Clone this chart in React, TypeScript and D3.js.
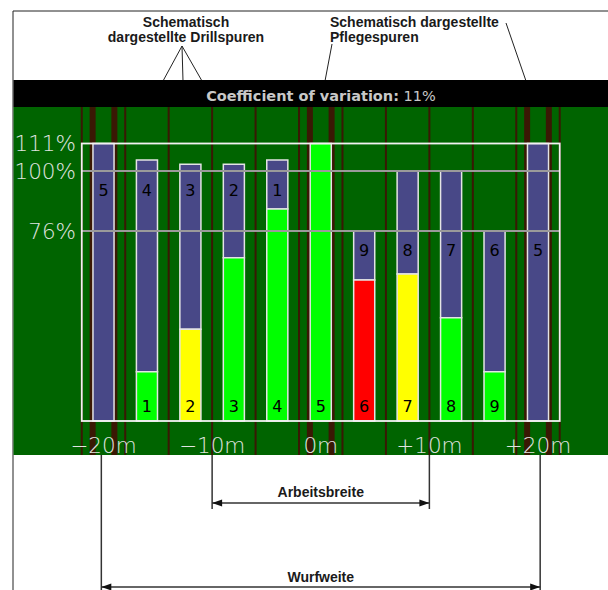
import React from "react";
import * as d3 from "d3";

// ---- data ----
const barPositions = [-20, -16, -12, -8, -4, 0, 4, 8, 12, 16, 20]; // metres
const totalValues = [111, 104.4, 102.7, 102.7, 104.4, 111, 76, 100, 100, 76, 111]; // %
const ownValues = [0, 19.7, 36.7, 65.3, 84.8, 111, 56.4, 58.8, 41.3, 19.7, 0]; // %
const ownColors = ["", "#00ff00", "#ffff00", "#00ff00", "#00ff00", "#00ff00", "#ff0000", "#ffff00", "#00ff00", "#00ff00", ""];
const ownLabels = ["", "1", "2", "3", "4", "5", "6", "7", "8", "9", ""];
const overlapLabels = ["5", "4", "3", "2", "1", "", "9", "8", "7", "6", "5"];
const overlapLabelLevel = [90, 90, 90, 90, 90, 0, 66, 66, 66, 66, 66]; // %
const yTicks = [111, 100, 76];
const xTicks = [-20, -10, 0, 10, 20];
const xTickLabels = ["\u221220m", "\u221210m", "0m", "+10m", "+20m"];
const drillTracks = [-22, -18, -14, -10, -6, -2, 2, 6, 10, 14, 18, 22];
const tramTracks = [-21, -19, -1, 1, 19, 21];
const arbeitsbreite = [-10, 10];
const wurfweite = [-20.2, 20.2];
const cvLabel = "Coefficient of variation:";
const cvValue = "11%";

const W = 608;
const H = 590;

const x = d3.scaleLinear().domain([-20, 20]).range([103.5, 538]);
const y = d3.scaleLinear().domain([0, 111]).range([421, 143.5]);
const BAR_HALF = 0.97;

const PURPLE = "#484887";
const BROWN = "#3a1804";
const annFont = "'Liberation Sans', Arial, sans-serif";
const djv = "'DejaVu Sans', sans-serif";

function Arrow({ tipX, yy, dir }: { tipX: number; yy: number; dir: number }) {
  const p = d3.path();
  p.moveTo(tipX, yy);
  p.lineTo(tipX + dir * 10, yy - 3.5);
  p.lineTo(tipX + dir * 10, yy + 3.5);
  p.closePath();
  return <path d={p.toString()} fill="#111" />;
}

export default function App() {
  const frameL = x(-22);
  const frameR = x(22);
  return (
    <svg width={W} height={H} style={{ position: "absolute", left: 0, top: 0, background: "#fff" }}>
      {/* outer border */}
      <line x1={13} y1={11} x2={W} y2={11} stroke="#222" strokeWidth={1} />
      <line x1={13} y1={11} x2={13} y2={H} stroke="#222" strokeWidth={1} />

      {/* annotations */}
      <g fontFamily={annFont} fontWeight="bold" fontSize={14} fill="#1a1a1a">
        <text x={186} y={27} textAnchor="middle">Schematisch</text>
        <text x={186} y={42} textAnchor="middle">dargestellte Drillspuren</text>
        <text x={330} y={27}>Schematisch dargestellte</text>
        <text x={330} y={42}>Pflegespuren</text>
      </g>
      <g stroke="#222" strokeWidth={1} fill="none">
        <line x1={182} y1={46} x2={163} y2={81} />
        <line x1={182} y1={46} x2={183} y2={81} />
        <line x1={182} y1={46} x2={202} y2={81} />
        <line x1={332} y1={44} x2={325} y2={81} />
        <line x1={506} y1={23} x2={526} y2={81} />
      </g>

      {/* black band */}
      <rect x={13.5} y={80} width={W - 13.5} height={27} fill="#000" />
      <text x={321} y={101} textAnchor="middle" fontFamily={djv} fontSize={14.5} fill="#c8c8c8">
        <tspan fontWeight="bold">{cvLabel}</tspan>
        <tspan> {cvValue}</tspan>
      </text>

      {/* field */}
      <rect x={13.5} y={107} width={W - 13.5} height={348} fill="#006400" />
      {drillTracks.map((m, i) => (
        <line key={"d" + i} x1={x(m)} x2={x(m)} y1={107} y2={455} stroke={BROWN} strokeWidth={2} />
      ))}
      {tramTracks.map((m, i) => (
        <line key={"t" + i} x1={x(m)} x2={x(m)} y1={107} y2={455} stroke={BROWN} strokeWidth={6} />
      ))}

      {/* bars */}
      {barPositions.map((m, i) => {
        const x0 = x(m - BAR_HALF);
        const w = x(m + BAR_HALF) - x0;
        return (
          <g key={"b" + i}>
            {totalValues[i] > ownValues[i] && (
              <rect x={x0} y={y(totalValues[i])} width={w} height={y(ownValues[i]) - y(totalValues[i])}
                fill={PURPLE} stroke="#e4e4e4" strokeWidth={1.5} />
            )}
            {ownValues[i] > 0 && (
              <rect x={x0} y={y(ownValues[i])} width={w} height={y(0) - y(ownValues[i])}
                fill={ownColors[i]} stroke="#e4e4e4" strokeWidth={1.5} />
            )}
          </g>
        );
      })}

      {/* grid (drawn over bars) */}
      {yTicks.filter((t) => t !== 111).map((t) => (
        <line key={"g" + t} x1={frameL} x2={frameR} y1={y(t)} y2={y(t)} stroke="#9a9a9a" strokeWidth={1.8} />
      ))}

      {/* frame */}
      <rect x={frameL} y={y(111)} width={frameR - frameL} height={y(0) - y(111)} fill="none" stroke="#f2f2f2" strokeWidth={1.8} />

      {/* bar labels */}
      <g fontFamily={djv} fontSize={16} fill="#000" textAnchor="middle">
        {barPositions.map((m, i) => (
          <React.Fragment key={"l" + i}>
            {overlapLabels[i] && <text x={x(m)} y={y(overlapLabelLevel[i])}>{overlapLabels[i]}</text>}
            {ownLabels[i] && <text x={x(m)} y={412}>{ownLabels[i]}</text>}
          </React.Fragment>
        ))}
      </g>

      {/* y tick labels */}
      <g fontFamily={djv} fontWeight={200} fontSize={21.5} fill="#e0e4e0" textAnchor="end">
        {yTicks.map((t) => (
          <text key={"y" + t} x={76} y={y(t)} dominantBaseline="central">{t}%</text>
        ))}
      </g>
      {/* x tick labels */}
      <g fontFamily={djv} fontWeight={200} fontSize={21.5} fill="#e0e4e0" textAnchor="middle">
        {xTicks.map((t, i) => (
          <text key={"x" + t} x={x(t)} y={445} dominantBaseline="central">{xTickLabels[i]}</text>
        ))}
      </g>

      {/* dimension lines */}
      <g stroke="#333" strokeWidth={1.5}>
        <line x1={x(arbeitsbreite[0])} x2={x(arbeitsbreite[0])} y1={455} y2={509} />
        <line x1={x(arbeitsbreite[1])} x2={x(arbeitsbreite[1])} y1={455} y2={509} />
        <line x1={x(arbeitsbreite[0])} x2={x(arbeitsbreite[1])} y1={503} y2={503} />
        <line x1={x(wurfweite[0])} x2={x(wurfweite[0])} y1={455} y2={H} />
        <line x1={x(wurfweite[1])} x2={x(wurfweite[1])} y1={455} y2={H} />
        <line x1={x(wurfweite[0])} x2={x(wurfweite[1])} y1={587} y2={587} />
      </g>
      <Arrow tipX={x(arbeitsbreite[0])} yy={503} dir={1} />
      <Arrow tipX={x(arbeitsbreite[1])} yy={503} dir={-1} />
      <Arrow tipX={x(wurfweite[0])} yy={587} dir={1} />
      <Arrow tipX={x(wurfweite[1])} yy={587} dir={-1} />
      <g fontFamily={annFont} fontWeight="bold" fontSize={14} fill="#1a1a1a" textAnchor="middle">
        <text x={x(0)} y={497}>Arbeitsbreite</text>
        <text x={x(0)} y={582}>Wurfweite</text>
      </g>
    </svg>
  );
}
